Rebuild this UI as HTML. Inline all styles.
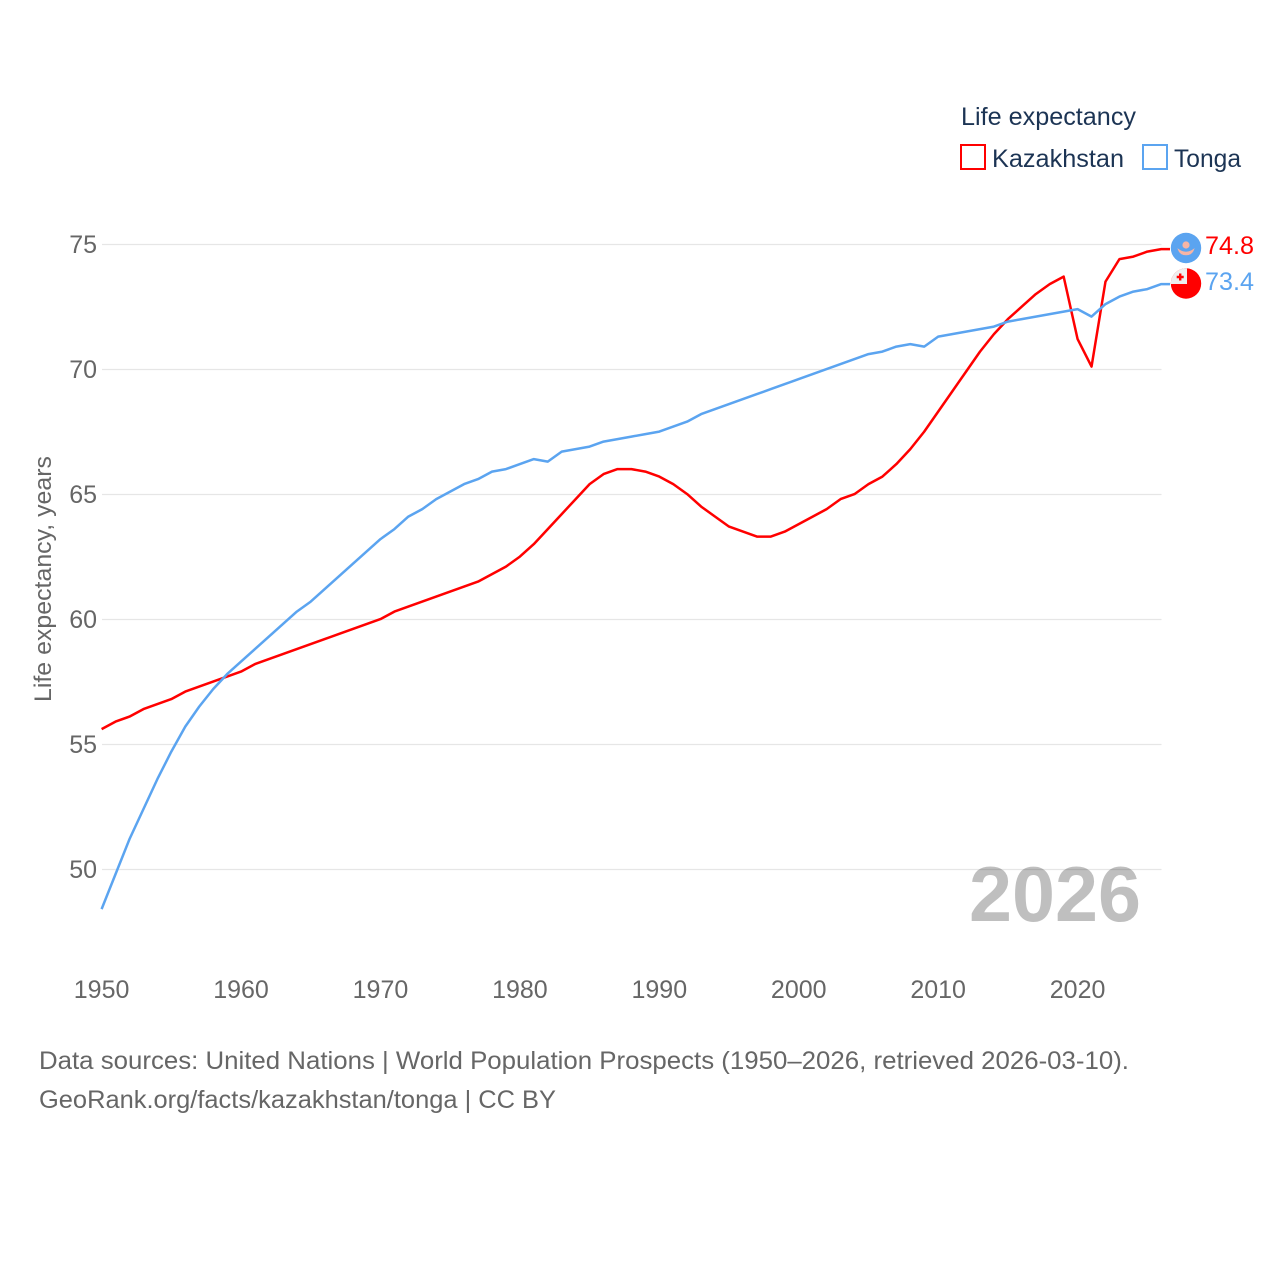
<!DOCTYPE html>
<html lang="en">
<head>
<meta charset="utf-8">
<title>Life expectancy: Kazakhstan and Tonga</title>
<style>
html,body{margin:0;padding:0;background:#fff;width:1280px;height:1280px;overflow:hidden}
svg{display:block}
text{font-family:"Liberation Sans",sans-serif}
</style>
</head>
<body>
<svg id="chart" xmlns="http://www.w3.org/2000/svg" width="1280" height="1280" viewBox="0 0 1280 1280">
  <rect x="0" y="0" width="1280" height="1280" fill="#ffffff"/>
  <g id="grid"></g>
  <g id="yticks"></g>
  <g id="xticks"></g>
  <text transform="translate(51,579) rotate(-90)" text-anchor="middle" font-size="24.5" fill="#666666" textLength="246" lengthAdjust="spacingAndGlyphs">Life expectancy, years</text>
  <text x="969" y="921" font-size="78" font-weight="700" fill="#000000" fill-opacity="0.25" textLength="172" lengthAdjust="spacingAndGlyphs">2026</text>
  <g id="series"></g>

  <g>
    <text x="961" y="125" font-size="25" fill="#1c3454" textLength="175" lengthAdjust="spacingAndGlyphs">Life expectancy</text>
    <rect x="961" y="145" width="24" height="24" fill="none" stroke="#ff0000" stroke-width="2"/>
    <text x="992" y="167" font-size="25" fill="#1c3454" textLength="132" lengthAdjust="spacingAndGlyphs">Kazakhstan</text>
    <rect x="1143" y="145" width="24" height="24" fill="none" stroke="#5ba4f0" stroke-width="2"/>
    <text x="1174" y="167" font-size="25" fill="#1c3454" textLength="67" lengthAdjust="spacingAndGlyphs">Tonga</text>
  </g>

  <defs>
    <clipPath id="tonga-clip"><circle cx="1186" cy="283.5" r="15.2"/></clipPath>
  </defs>
  <g>
    <circle cx="1186" cy="248" r="15.2" fill="#5ba4f0"/>
    <circle cx="1186" cy="245" r="3.6" fill="#f7b5a5"/>
    <path d="M1178 249 Q1180 255 1186 255 Q1192 255 1194 249 Q1190 252 1186 252 Q1182 252 1178 249Z" fill="#f7b5a5" stroke="#f7b5a5" stroke-width="0.6"/>
  </g>
  <g>
    <circle cx="1186" cy="283.5" r="15.2" fill="#ff0000"/>
    <rect x="1170" y="268" width="17" height="16" fill="#eeeeee" clip-path="url(#tonga-clip)"/>
    <path d="M1179 273.5h2.4v2.3h2.3v2.4h-2.3v2.3h-2.4v-2.3h-2.3v-2.4h2.3z" fill="#ff0000"/>
  </g>
  <text x="1205" y="254" font-size="25" fill="#ff0000" textLength="49" lengthAdjust="spacingAndGlyphs">74.8</text>
  <text x="1205" y="290" font-size="25" fill="#5ba4f0" textLength="49" lengthAdjust="spacingAndGlyphs">73.4</text>

  <text x="39" y="1069" font-size="25" fill="#666666" textLength="1090" lengthAdjust="spacingAndGlyphs">Data sources: United Nations | World Population Prospects (1950–2026, retrieved 2026-03-10).</text>
  <text x="39" y="1108" font-size="25" fill="#666666" textLength="517" lengthAdjust="spacingAndGlyphs">GeoRank.org/facts/kazakhstan/tonga | CC BY</text>
</svg>
<script>
const years = [1950,1951,1952,1953,1954,1955,1956,1957,1958,1959,1960,1961,1962,1963,1964,1965,1966,1967,1968,1969,1970,1971,1972,1973,1974,1975,1976,1977,1978,1979,1980,1981,1982,1983,1984,1985,1986,1987,1988,1989,1990,1991,1992,1993,1994,1995,1996,1997,1998,1999,2000,2001,2002,2003,2004,2005,2006,2007,2008,2009,2010,2011,2012,2013,2014,2015,2016,2017,2018,2019,2020,2021,2022,2023,2024,2025,2026];
const kazakhstan = [55.6,55.9,56.1,56.4,56.6,56.8,57.1,57.3,57.5,57.7,57.9,58.2,58.4,58.6,58.8,59.0,59.2,59.4,59.6,59.8,60.0,60.3,60.5,60.7,60.9,61.1,61.3,61.5,61.8,62.1,62.5,63.0,63.6,64.2,64.8,65.4,65.8,66.0,66.0,65.9,65.7,65.4,65.0,64.5,64.1,63.7,63.5,63.3,63.3,63.5,63.8,64.1,64.4,64.8,65.0,65.4,65.7,66.2,66.8,67.5,68.3,69.1,69.9,70.7,71.4,72.0,72.5,73.0,73.4,73.7,71.2,70.1,73.5,74.4,74.5,74.7,74.8];
const tonga = [48.4,49.8,51.2,52.4,53.6,54.7,55.7,56.5,57.2,57.8,58.3,58.8,59.3,59.8,60.3,60.7,61.2,61.7,62.2,62.7,63.2,63.6,64.1,64.4,64.8,65.1,65.4,65.6,65.9,66.0,66.2,66.4,66.3,66.7,66.8,66.9,67.1,67.2,67.3,67.4,67.5,67.7,67.9,68.2,68.4,68.6,68.8,69.0,69.2,69.4,69.6,69.8,70.0,70.2,70.4,70.6,70.7,70.9,71.0,70.9,71.3,71.4,71.5,71.6,71.7,71.9,72.0,72.1,72.2,72.3,72.4,72.1,72.6,72.9,73.1,73.2,73.4];
const yTickValues = [50,55,60,65,70,75];
const xTickValues = [1950,1960,1970,1980,1990,2000,2010,2020];

const NS = 'http://www.w3.org/2000/svg';
function xScale(year){ return 101.6 + (year - 1950) * (976 / 70); }
function yScale(value){ return 869.5 - (value - 50) * 25; }

const gridLayer = document.getElementById('grid');
const yLayer = document.getElementById('yticks');
const xLayer = document.getElementById('xticks');
const seriesLayer = document.getElementById('series');

yTickValues.forEach(function(v){
  const line = document.createElementNS(NS,'line');
  
  
  line.setAttribute('x1', 102);
  line.setAttribute('x2', 1161.5);
  line.setAttribute('y1', yScale(v));
  line.setAttribute('y2', yScale(v));
  line.setAttribute('stroke', '#e6e6e6');
  line.setAttribute('stroke-width', '1.3');
  gridLayer.appendChild(line);

  const label = document.createElementNS(NS,'text');
  
  
  label.setAttribute('x', 97);
  label.setAttribute('y', yScale(v) + 8.5);
  label.setAttribute('text-anchor', 'end');
  label.setAttribute('font-size', '25');
  label.setAttribute('fill', '#666666');
  label.textContent = v;
  yLayer.appendChild(label);
});

xTickValues.forEach(function(y){
  const label = document.createElementNS(NS,'text');
  
  
  label.setAttribute('x', xScale(y));
  label.setAttribute('y', 998);
  label.setAttribute('text-anchor', 'middle');
  label.setAttribute('font-size', '25');
  label.setAttribute('fill', '#666666');
  label.textContent = y;
  xLayer.appendChild(label);
});

function buildPath(values){
  let d = '';
  values.forEach(function(v,i){
    d += (i ? 'L' : 'M') + xScale(years[i]).toFixed(2) + ' ' + (yScale(v) - 0.4).toFixed(2);
  });
  d += 'H1170';
  return d;
}

const kazakhstanLine = document.createElementNS(NS,'path');


kazakhstanLine.setAttribute('d', buildPath(kazakhstan));
kazakhstanLine.setAttribute('fill', 'none');
kazakhstanLine.setAttribute('stroke', '#ff0000');
kazakhstanLine.setAttribute('stroke-width', '2.5');
kazakhstanLine.setAttribute('stroke-linejoin', 'round');

const tongaLine = document.createElementNS(NS,'path');


tongaLine.setAttribute('d', buildPath(tonga));
tongaLine.setAttribute('fill', 'none');
tongaLine.setAttribute('stroke', '#5ba4f0');
tongaLine.setAttribute('stroke-width', '2.5');
tongaLine.setAttribute('stroke-linejoin', 'round');

seriesLayer.appendChild(kazakhstanLine);
seriesLayer.appendChild(tongaLine);
</script>
</body>
</html>
